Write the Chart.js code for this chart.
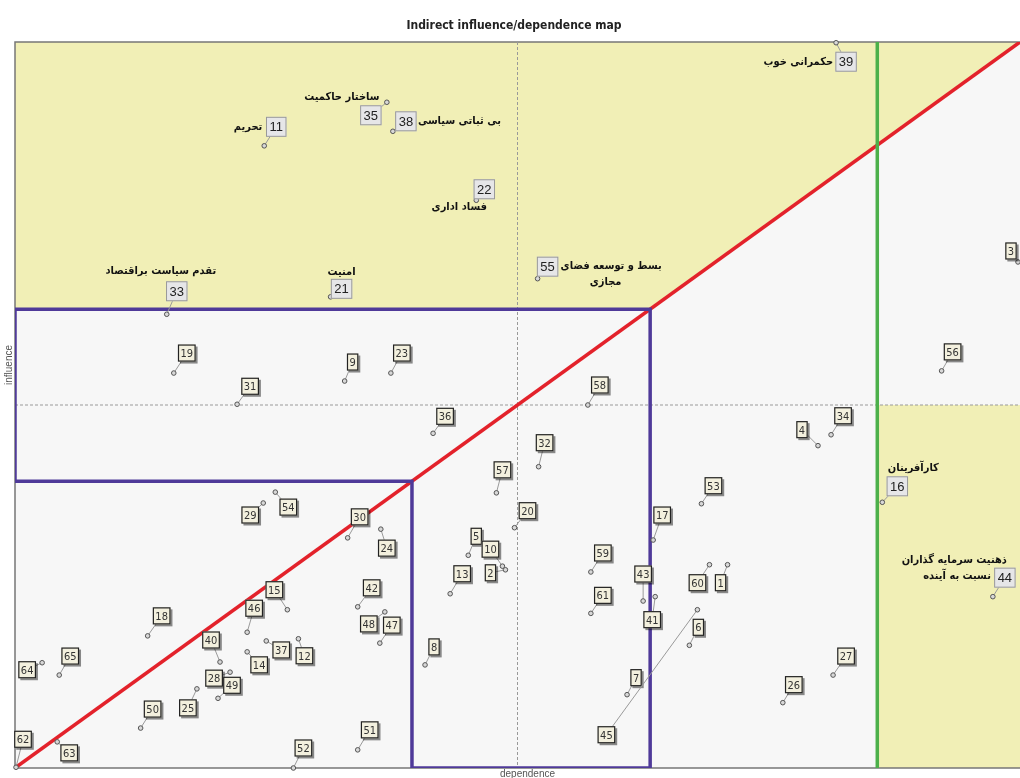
<!DOCTYPE html>
<html lang="en">
<head>
<meta charset="UTF-8">
<title>Indirect influence/dependence map</title>
<script src="https://cdn.jsdelivr.net/npm/chart.js"></script>
<style>
    body { margin: 0; background: #fff; }
    canvas { display: block; }
</style>
</head>
<body>
<canvas id="map" width="1020" height="778"></canvas>
<script>
// variables and their indirect dependence / influence (0-100 scale)
const ids = [1, 2, 3, 4, 5, 6, 7, 8, 9, 10, 11, 12, 13, 14, 15, 16, 17, 18, 19, 20, 21, 22,
    23, 24, 25, 26, 27, 28, 29, 30, 31, 32, 33, 34, 35, 36, 37, 38, 39, 40, 41, 42, 43, 44,
    45, 46, 47, 48, 49, 50, 51, 52, 53, 54, 55, 56, 57, 58, 59, 60, 61, 62, 63, 64, 65];
const dependence = [70.9, 48.8, 99.8, 79.9, 45.1, 67.1, 60.9, 40.8, 32.8, 48.5, 24.8, 28.2,
    43.3, 23.1, 27.1, 86.3, 63.5, 13.2, 15.8, 49.7, 31.4, 45.9, 37.4, 36.4, 18.1, 76.4, 81.4,
    21.4, 24.7, 33.1, 22.1, 52.1, 15.1, 81.2, 37.0, 41.6, 25.0, 37.6, 81.7, 20.4, 63.7, 34.1,
    62.5, 97.3, 67.9, 23.1, 36.3, 36.8, 20.2, 12.5, 34.1, 27.7, 68.3, 25.9, 52.0, 92.2, 47.9,
    57.0, 57.3, 69.1, 57.3, 0.1, 4.2, 2.7, 4.4];
const influence = [28.0, 27.3, 69.7, 44.4, 29.3, 16.9, 10.1, 14.2, 53.3, 27.8, 85.7, 17.8,
    24.0, 16.0, 21.8, 36.6, 31.4, 18.2, 54.4, 33.1, 64.9, 78.2, 54.4, 32.9, 10.9, 9.0, 12.8,
    13.2, 36.5, 31.7, 50.1, 41.5, 62.5, 45.9, 91.7, 46.1, 17.5, 87.7, 99.9, 14.6, 23.6, 22.2,
    23.0, 23.6, 21.8, 18.7, 17.2, 21.5, 9.6, 5.5, 2.5, 0.0, 36.4, 38.0, 67.4, 54.7, 37.9,
    50.0, 27.0, 28.0, 21.3, 0.1, 3.6, 14.5, 12.8];
const names = {
    39: ['حکمرانی خوب'],
    35: ['ساختار حاکمیت'],
    38: ['بی ثباتی سیاسی'],
    11: ['تحریم'],
    22: ['فساد اداری'],
    33: ['تقدم سیاست براقتصاد'],
    21: ['امنیت'],
    55: ['بسط و توسعه فضای', 'مجازی'],
    16: ['کارآفرینان'],
    44: ['ذهنیت سرمایه گذاران', 'نسبت به آینده']
};

// zone limits
const mid = 50;
const innerBox = 39.5;
const outerBox = 63.2;
const greenX = 85.8;

const diagonal = [{x: 0, y: 0}, {x: 100, y: 100}];
const greenLine = [{x: greenX, y: 0}, {x: greenX, y: 100}];
const boxes = [{x: 0, y: innerBox}, {x: 0, y: outerBox}, {x: outerBox, y: outerBox}, {x: outerBox, y: 0},
    {x: innerBox, y: 0}, {x: innerBox, y: innerBox}, {x: 0, y: innerBox}];
const zoneTop = [[0, outerBox], [0, 100], [100, 100], [outerBox, outerBox]];
const zoneRight = [[greenX, 0], [greenX, mid], [100, mid], [100, 0]];

// where each label box sits relative to its point (px)
const labelOffset = {1:[-7,18], 2:[-15,3], 3:[-7,-11], 4:[-16,-16], 5:[8,-19], 6:[9,-18], 7:[9,-17],
    8:[9,-18], 9:[8,-19], 10:[-12,-17], 11:[12,-19], 12:[6,17], 13:[12,-20], 14:[12,13], 15:[-13,-20],
    16:[15,-16], 17:[9,-25], 18:[14,-20], 19:[13,-20], 20:[13,-17], 21:[11,-8], 22:[8,-11], 23:[11,-20],
    24:[6,19], 25:[-9,19], 26:[11,-18], 27:[13,-19], 28:[-16,6], 29:[-13,12], 30:[12,-21], 31:[13,-18],
    32:[6,-24], 33:[10,-23], 34:[12,-19], 35:[-16,13], 36:[12,-17], 37:[15,9], 38:[13,-10], 39:[10,19],
    40:[-9,-22], 41:[-3,23], 42:[14,-19], 43:[0,-27], 44:[12,-19], 45:[-91,125], 46:[7,-24], 47:[12,-18],
    48:[-16,12], 49:[14,-13], 50:[12,-19], 51:[12,-20], 52:[10,-20], 53:[12,-18], 54:[13,15], 55:[10,-12],
    56:[11,-19], 57:[6,-23], 58:[12,-20], 59:[12,-19], 60:[-12,18], 61:[12,-18], 62:[7,-28], 63:[12,11],
    64:[-15,7], 65:[11,-19]};
// name text placement relative to the box: [align, dx, dy] per line
const nameLayout = {
    39: [['right', -13, 0]],
    35: [['center', -29, -18]],
    38: [['left', 12, 0]],
    11: [['right', -14, 0]],
    22: [['center', -25, 18]],
    33: [['center', -16, -20]],
    21: [['center', 0, -17]],
    55: [['left', 13, -1], ['center', 58, 15]],
    16: [['center', 16, -18]],
    44: [['right', 2, -18], ['right', -14, -2]]
};

function poly(ctx, x, y, pts) {
    ctx.beginPath();
    pts.forEach((p, i) => {
        const px = x.getPixelForValue(p[0]), py = y.getPixelForValue(p[1]);
        if (i === 0) ctx.moveTo(px, py); else ctx.lineTo(px, py);
    });
    ctx.closePath();
    ctx.fill();
}

const mapDecor = {
    id: 'mapDecor',
    beforeDatasetsDraw(chart) {
        const {ctx, chartArea: a, scales: {x, y}} = chart;
        ctx.save();
        ctx.fillStyle = '#f7f7f7';
        ctx.fillRect(a.left, a.top, a.right - a.left, a.bottom - a.top);
        ctx.fillStyle = '#f1efb6';
        poly(ctx, x, y, zoneTop);
        poly(ctx, x, y, zoneRight);
        // plot frame
        ctx.strokeStyle = '#777';
        ctx.lineWidth = 1.5;
        ctx.beginPath();
        ctx.moveTo(a.right, a.top); ctx.lineTo(a.left, a.top);
        ctx.lineTo(a.left, a.bottom); ctx.lineTo(a.right, a.bottom);
        ctx.stroke();
        // dashed mid lines
        ctx.strokeStyle = '#999';
        ctx.lineWidth = 1;
        ctx.setLineDash([3, 2]);
        ctx.beginPath();
        ctx.moveTo(x.getPixelForValue(mid), a.top); ctx.lineTo(x.getPixelForValue(mid), a.bottom);
        ctx.moveTo(a.left, y.getPixelForValue(mid)); ctx.lineTo(a.right, y.getPixelForValue(mid));
        ctx.stroke();
        ctx.restore();
    },
    afterDatasetsDraw(chart) {
        const ctx = chart.ctx;
        const pts = chart.getDatasetMeta(3).data;
        ctx.save();
        ids.forEach((id, i) => {
            const p = pts[i];
            const off = labelOffset[id] || [12, -19];
            const bx = p.x + off[0], by = p.y + off[1];
            // leader
            ctx.strokeStyle = '#9a9a9a';
            ctx.lineWidth = 1;
            ctx.beginPath();
            ctx.moveTo(p.x, p.y);
            ctx.lineTo(bx, by);
            ctx.stroke();
            // marker
            ctx.fillStyle = '#d8d8d8';
            ctx.strokeStyle = '#555';
            ctx.beginPath();
            ctx.arc(p.x, p.y, 2.3, 0, Math.PI * 2);
            ctx.fill();
            ctx.stroke();

            const label = String(id);
            if (names[id]) {
                ctx.font = '13px "Liberation Sans", Arial, sans-serif';
                const w = ctx.measureText(label).width + 7, h = 20;
                ctx.fillStyle = '#e6e6e8';
                ctx.fillRect(bx - w / 2, by - h / 2, w, h);
                ctx.strokeStyle = '#999';
                ctx.strokeRect(bx - w / 2 + 0.5, by - h / 2 + 0.5, w - 1, h - 1);
                ctx.fillStyle = '#222';
                ctx.textAlign = 'center';
                ctx.textBaseline = 'middle';
                ctx.fillText(label, bx, by + 1);
                ctx.font = 'bold 11px "DejaVu Sans Condensed", "DejaVu Sans", sans-serif';
                ctx.direction = 'rtl';
                ctx.fillStyle = '#111';
                names[id].forEach((txt, k) => {
                    const [al, dx, dy] = nameLayout[id][k];
                    ctx.textAlign = al;
                    ctx.fillText(txt, bx + dx, by + dy);
                });
                ctx.direction = 'ltr';
            } else {
                ctx.font = '11px "DejaVu Sans Condensed", "Liberation Sans", sans-serif';
                const w = ctx.measureText(label).width + 5, h = 17;
                ctx.fillStyle = 'rgba(0,0,0,0.45)';
                ctx.fillRect(bx - w / 2 + 2, by - h / 2 + 2, w, h);
                ctx.fillStyle = '#f3f0de';
                ctx.fillRect(bx - w / 2, by - h / 2, w, h);
                ctx.strokeStyle = '#222';
                ctx.lineWidth = 1.2;
                ctx.strokeRect(bx - w / 2 + 0.5, by - h / 2 + 0.5, w - 1, h - 1);
                ctx.fillStyle = '#333';
                ctx.textAlign = 'center';
                ctx.textBaseline = 'middle';
                ctx.fillText(label, bx, by + 1);
            }
        });
        ctx.restore();
    },
    afterDraw(chart) {
        const {ctx, chartArea: a} = chart;
        ctx.save();
        ctx.fillStyle = '#222';
        ctx.textAlign = 'center';
        ctx.textBaseline = 'middle';
        ctx.font = 'bold 12px "DejaVu Sans Condensed", Arial, sans-serif';
        ctx.fillText('Indirect influence/dependence map', 514, 26);
        ctx.fillStyle = '#555';
        ctx.font = '10px "Liberation Sans", Arial, sans-serif';
        ctx.fillText('dependence', (a.left + a.right) / 2 + 10, a.bottom + 6);
        ctx.translate(9, 365);
        ctx.rotate(-Math.PI / 2);
        ctx.fillText('influence', 0, 0);
        ctx.restore();
    }
};

new Chart(document.getElementById('map'), {
    type: 'scatter',
    data: {
        datasets: [
            {data: diagonal, showLine: true, borderColor: '#e3222b', borderWidth: 3.5, pointRadius: 0, order: 3},
            {data: greenLine, showLine: true, borderColor: '#4cb04a', borderWidth: 3.5, pointRadius: 0, order: 2},
            {data: boxes, showLine: true, borderColor: '#4f3a99', borderWidth: 3.5, pointRadius: 0, order: 1},
            {data: ids.map((id, i) => ({x: dependence[i], y: influence[i]})), pointRadius: 0, order: 0}
        ]
    },
    options: {
        responsive: false,
        animation: false,
        layout: {padding: {left: 15, right: 0, top: 42, bottom: 10}},
        plugins: {legend: {display: false}, tooltip: {enabled: false}},
        scales: {
            x: {type: 'linear', min: 0, max: 100, display: false},
            y: {type: 'linear', min: 0, max: 100, display: false}
        }
    },
    plugins: [mapDecor]
});
</script>
</body>
</html>
